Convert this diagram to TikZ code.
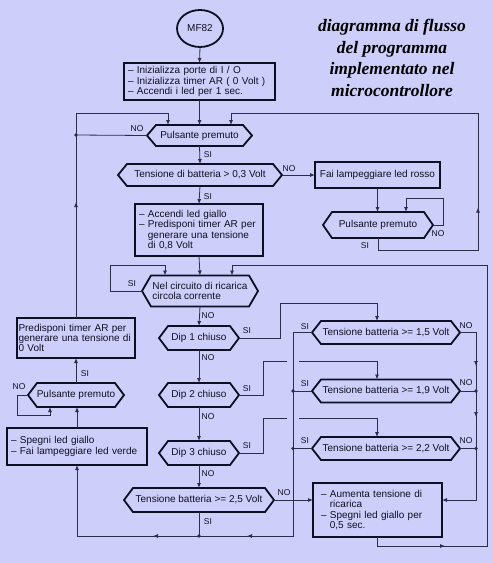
\documentclass[tikz,border=0pt]{standalone}
\usepackage{fontspec}
\setmainfont{Liberation Sans}
\newfontfamily\titlefont{Liberation Serif}
\usetikzlibrary{arrows.meta,shapes.geometric,decorations.markings}
\definecolor{bgc}{RGB}{206,206,250}
\definecolor{boxc}{RGB}{15,15,35}
\definecolor{linec}{RGB}{45,45,75}
\newcommand{\boxfont}{\fontsize{10}{10.2}\selectfont}
\newcommand{\hexo}[1]{\draw[hexline] ([xshift=9pt]#1.north west) -- ([xshift=-9pt]#1.north east) -- (#1.east) -- ([xshift=-9pt]#1.south east) -- ([xshift=9pt]#1.south west) -- (#1.west) -- cycle;}
\newcommand{\dsh}{\textendash\ }
\newcommand{\ind}{\phantom{\textendash\ }}
\begin{document}
\begin{tikzpicture}[x=1pt,y=-1pt,>={Latex[length=5pt,width=4pt]},
  conn/.style={draw=linec,line width=0.8pt},
  boxn/.style={draw=boxc,line width=1.8pt,rectangle,inner sep=0pt,outer sep=0pt,font=\boxfont,align=left,text=boxc},
  hexa/.style={rectangle,inner sep=0pt,outer sep=0pt,font=\boxfont,align=center,text=boxc},
  hexline/.style={draw=boxc,line width=1.8pt,line join=miter},
  lbl/.style={font=\fontsize{8.5}{8.5}\selectfont,inner sep=0pt,text=boxc},
  marr/.style={postaction={decorate,decoration={markings,mark=at position #1 with {\arrow{>}}}}}]
\fill[bgc] (0,0) rectangle (493,563);
\useasboundingbox (0,0) rectangle (493,563);

% title
\node[font=\titlefont\bfseries\itshape\fontsize{17.5}{21.5}\selectfont,align=center,inner sep=0pt,text=black] (ttl) at (392,58)
  {diagramma di flusso\\del programma\\implementato nel\\microcontrollore};

% nodes
\node[draw=boxc,line width=1.8pt,ellipse,minimum width=46pt,minimum height=37pt,inner sep=0pt,outer sep=0pt,font=\boxfont,text=boxc] (mf) at (200,28.5) {MF82};
\node[boxn,text width=143pt,inner xsep=4pt,minimum height=37pt] (init) at (199.5,81.5)
  {\dsh Inizializza porte di I / O\\\dsh Inizializza timer AR ( 0 Volt )\\\dsh Accendi i led per 1 sec.};
\node[hexa,minimum width=105pt,minimum height=21pt] (p1) at (199.5,135.5) {Pulsante premuto}; \hexo{p1}
\node[hexa,minimum width=164pt,minimum height=22pt] (t03) at (200,175) {Tensione di batteria > 0,3 Volt}; \hexo{t03}
\node[boxn,minimum width=125pt,minimum height=26pt,align=center] (rosso) at (377.5,175) {Fai lampeggiare led rosso};
\node[hexa,minimum width=110pt,minimum height=26pt] (p2) at (378,225) {Pulsante premuto}; \hexo{p2}
\node[boxn,text width=120pt,inner xsep=4pt,minimum height=52pt] (giallo) at (199,230)
  {\dsh Accendi led giallo\\\dsh Predisponi timer AR per\\\ind generare una tensione\\\ind di 0,8 Volt};
\node[hexa,minimum width=116pt,minimum height=31pt,align=left] (nel) at (200,291) {Nel circuito di ricarica\\circola corrente}; \hexo{nel}
\node[hexa,minimum width=80pt,minimum height=24pt] (dip1) at (199,338) {Dip 1 chiuso}; \hexo{dip1}
\node[hexa,minimum width=80pt,minimum height=24pt] (dip2) at (199,395) {Dip 2 chiuso}; \hexo{dip2}
\node[hexa,minimum width=80pt,minimum height=24pt] (dip3) at (199,453) {Dip 3 chiuso}; \hexo{dip3}
\node[hexa,minimum width=150pt,minimum height=24pt] (t25) at (199,500) {Tensione batteria >= 2,5 Volt}; \hexo{t25}
\node[hexa,minimum width=148pt,minimum height=23pt] (t15) at (386,332.5) {Tensione batteria >= 1,5 Volt}; \hexo{t15}
\node[hexa,minimum width=148pt,minimum height=23pt] (t19) at (386,391) {Tensione batteria >= 1,9 Volt}; \hexo{t19}
\node[hexa,minimum width=148pt,minimum height=23pt] (t22) at (386,448.5) {Tensione batteria >= 2,2 Volt}; \hexo{t22}
\node[boxn,text width=113pt,inner xsep=8pt,minimum height=54pt] (aum) at (377.5,510)
  {\dsh Aumenta tensione di\\\ind ricarica\\\dsh Spegni led giallo per\\\ind 0,5 sec.};
\node[boxn,text width=115pt,inner xsep=1.5pt,minimum height=40pt] (pred) at (76,338)
  {Predisponi timer AR per\\generare una tensione di\\0 Volt};
\node[hexa,minimum width=96pt,minimum height=24pt] (p3) at (76,395) {Pulsante premuto}; \hexo{p3}
\node[boxn,text width=132pt,inner xsep=4pt,minimum height=37pt] (speg) at (77,446.5)
  {\dsh Spegni led giallo\\\dsh Fai lampeggiare led verde};

% coordinates
\coordinate (d1) at (76,135);
\coordinate (bl) at (77,536);
\coordinate (dd) at (199,536);
\coordinate (ds19) at ([xshift=-19pt]t19.west);
\coordinate (ds22) at ([xshift=-19pt]t22.west);
\coordinate (dn19) at ([xshift=16pt]t19.east);
\coordinate (dn22) at ([xshift=16pt]t22.east);

% connectors
\draw[conn,->] (mf.south) -- (init.north);
\draw[conn,->] (init.south) -- (p1.north);
\draw[conn] (p1.west) -- (d1);
\draw[conn,->,marr=116pt] (pred.north) -- (76,113) -| ([xshift=-31.5pt]p1.north);
\draw[conn,->] (p1.south) -- (t03.north);
\draw[conn,->] (t03.east) -- (rosso.west);
\draw[conn,->] (t03.south) -- (giallo.north);
\draw[conn,->] (rosso.south) -- (rosso.south |- p2.north);
\draw[conn,->] (p2.east) -- ++(10,0) -- ++(0,-27) -| ([xshift=28pt]p2.north);
\draw[conn,->,marr=154.5pt] (p2.south) -- ++(0,12) -| (478,113) -| ([xshift=31.5pt]p1.north);
\draw[conn,->] (giallo.south) -- (nel.north);
\draw[conn,->] (nel.west) -- ++(-32,0) -- ++(0,-26) -| ([xshift=-35pt]nel.north);
\draw[conn,->,marr=76.5pt] (aum.south) -- ++(0,9) -| (487,265) -| ([xshift=32pt]nel.north);
\draw[conn,->] (nel.south) -- (dip1.north);
\draw[conn,->] (dip1.south) -- (dip2.north);
\draw[conn,->] (dip2.south) -- (dip3.north);
\draw[conn,->] (dip3.south) -- (t25.north);
\draw[conn,->] (dip1.east) -- ++(41,0) -- ++(0,-35) -| ([xshift=-9pt]t15.north);
\draw[conn,->] (dip2.east) -- ++(24,0) -- ++(0,-34) -- ++(24,0) ++(12,0) -| ([xshift=-9pt]t19.north);
\draw[conn,->] (dip3.east) -- ++(24,0) -- ++(0,-35) -- ++(24,0) ++(12,0) -| ([xshift=-9pt]t22.north);
\draw[conn,->,marr=268.5pt,marr=362.5pt] (t15.west) -- ++(-19,0) |- (bl) -- (speg.south);
\draw[conn] (t19.west) -- (ds19);
\draw[conn] (t22.west) -- (ds22);
\draw[conn,->,marr=49.5pt,marr=100.5pt] (t15.east) -- ++(16,0) |- ([yshift=10pt]aum.east);
\draw[conn] (t19.east) -- (dn19);
\draw[conn] (t22.east) -- (dn22);
\draw[conn,->] (t25.east) -- ([yshift=10pt]aum.west);
\draw[conn] (t25.south) -- (dd);
\draw[conn,->] (speg.north) -- (speg.north |- p3.south);
\draw[conn,->] (pred.south |- p3.north) -- (pred.south);
\draw[conn,->] (p3.west) -- ++(-11,0) -- ++(0,20) -| ([xshift=-26pt]p3.south);

% dots
\foreach \c in {d1,dd,ds19,ds22,dn19,dn22} \fill[linec] (\c) circle (1.8pt);

% labels
\node[lbl] (l1) at (137,129) {NO};
\node[lbl] (l2) at (208,155) {SI};
\node[lbl] (l3) at (289,169) {NO};
\node[lbl] (l4) at (208,197) {SI};
\node[lbl] (l5) at (438,234) {NO};
\node[lbl] (l6) at (365,246) {SI};
\node[lbl] (l7) at (132,284) {SI};
\node[lbl] (l8) at (208,316) {NO};
\node[lbl] (l9) at (208,358) {NO};
\node[lbl] (l10) at (208,417) {NO};
\node[lbl] (l11) at (208,474) {NO};
\node[lbl] (l12) at (208,522) {SI};
\node[lbl] (l13) at (284,493) {NO};
\node[lbl] (l14) at (247,331) {SI};
\node[lbl] (l15) at (247,389) {SI};
\node[lbl] (l16) at (247,446) {SI};
\node[lbl] (l17) at (305,327) {SI};
\node[lbl] (l18) at (305,384) {SI};
\node[lbl] (l19) at (305,441) {SI};
\node[lbl] (l20) at (466,326) {NO};
\node[lbl] (l21) at (466,383) {NO};
\node[lbl] (l22) at (466,441) {NO};
\node[lbl] (l23) at (85,374) {SI};
\node[lbl] (l24) at (19,387) {NO};
\end{tikzpicture}
\end{document}
